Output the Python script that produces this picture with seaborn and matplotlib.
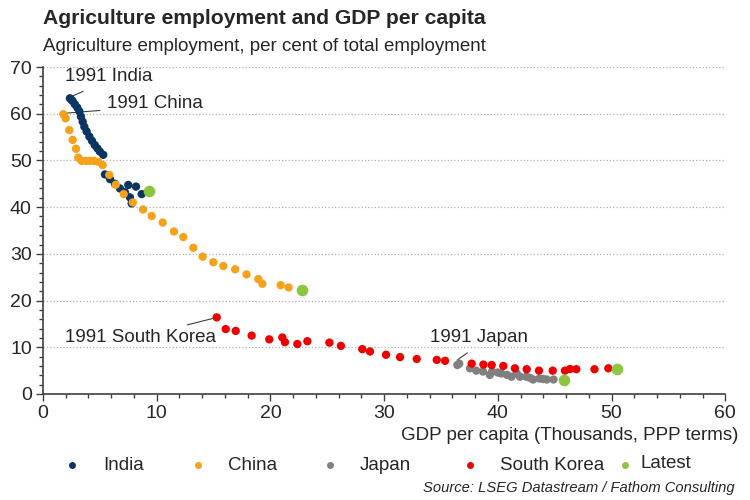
import matplotlib
matplotlib.use("Agg")
import matplotlib.pyplot as plt
from matplotlib.lines import Line2D
from matplotlib.ticker import MultipleLocator
import seaborn as sns
import pandas as pd

# GDP per capita (thousands, PPP) and agriculture share of employment (%)
india_gdp = [2.37, 2.5, 2.61, 2.81, 3.02, 3.2, 3.34, 3.49, 3.64, 3.84, 4.08, 4.31,
             4.55, 4.78, 5.0, 5.3, 5.45, 5.9, 6.33, 6.77, 7.2, 7.65, 7.8,
             7.5, 8.18, 8.68]
india_emp = [63.3, 63.0, 62.7, 62.0, 61.3, 60.5, 59.4, 58.3, 57.2, 56.2, 55.1, 54.2,
             53.3, 52.6, 51.9, 51.2, 47.0, 46.0, 45.0, 44.0, 43.2, 42.1, 40.8,
             44.75, 44.4, 42.8]

china_gdp = [1.79, 2.0, 2.31, 2.61, 2.9, 3.1, 3.4, 3.78, 4.13, 4.49, 4.86, 5.25,
             5.83, 6.4, 7.1, 7.9, 8.8, 9.56, 10.53, 11.52, 12.34, 13.22, 14.04,
             14.98, 15.86, 16.9, 17.9, 18.94, 19.29, 20.9, 21.6]
china_emp = [59.9, 59.0, 56.5, 54.4, 52.5, 50.6, 49.9, 49.9, 49.9, 49.9, 49.7, 49.0,
             46.9, 44.8, 42.8, 41.0, 39.5, 38.1, 36.7, 34.8, 33.6, 31.3, 29.4,
             28.2, 27.4, 26.7, 25.6, 24.6, 23.6, 23.3, 22.8]

japan_gdp = [36.44, 36.6, 37.55, 38.1, 38.7, 39.3, 39.5, 40.0, 40.3, 40.8, 41.2,
             41.66, 41.95, 42.5, 42.8, 43.1, 43.65, 44.0, 44.3, 44.9]
japan_emp = [6.2, 6.5, 5.5, 5.0, 4.8, 4.1, 4.8, 4.6, 4.4, 4.1, 3.7,
             4.4, 3.7, 3.7, 3.5, 3.1, 3.3, 3.2, 3.1, 3.1]

korea_gdp = [15.28, 16.07, 16.95, 18.35, 19.9, 21.05, 21.28, 22.37, 23.25, 25.19,
             26.2, 28.08, 28.76, 30.17, 31.4, 32.87, 34.63, 35.36, 37.7, 38.73,
             39.46, 40.48, 41.5, 42.54, 43.62, 44.83, 45.9, 46.35, 46.9, 48.5, 49.72]
korea_emp = [16.4, 13.9, 13.5, 12.5, 11.7, 12.1, 11.1, 10.7, 11.3, 11.0,
             10.3, 9.6, 9.1, 8.4, 7.9, 7.5, 7.3, 7.1, 6.5, 6.3,
             6.2, 6.0, 5.5, 5.3, 5.0, 5.0, 5.0, 5.35, 5.3, 5.3, 5.5]

latest_gdp = [9.35, 22.75, 45.85, 50.45]
latest_emp = [43.5, 22.3, 2.9, 5.3]

countries = ["India", "China", "Japan", "South Korea"]
legend_labels = countries + ["Latest"]
colors = {"India": "#0b3563", "China": "#f7a11a", "Japan": "#808080",
          "South Korea": "#ee0000", "Latest": "#8cc63f"}

frames = []
for name, gx, ey in [("India", india_gdp, india_emp), ("China", china_gdp, china_emp),
                     ("Japan", japan_gdp, japan_emp), ("South Korea", korea_gdp, korea_emp)]:
    frames.append(pd.DataFrame({"gdp": gx, "emp": ey, "country": name}))
df = pd.concat(frames, ignore_index=True)
latest = pd.DataFrame({"gdp": latest_gdp, "emp": latest_emp})

sns.set_theme(style="white")
plt.rcParams["font.family"] = ["Liberation Sans", "DejaVu Sans"]
text_col = "#262626"

fig = plt.figure(figsize=(7.5, 5), dpi=100)
ax = fig.add_axes([0.0573, 0.212, 0.9097, 0.654])

sns.scatterplot(data=df, x="gdp", y="emp", hue="country", hue_order=countries,
                palette=colors, s=36, linewidth=0, legend=False, ax=ax, zorder=3)
sns.scatterplot(data=latest, x="gdp", y="emp", color=colors["Latest"], s=70,
                linewidth=0, legend=False, ax=ax, zorder=4)

ax.set_xlim(0, 60)
ax.set_ylim(0, 70)
ax.xaxis.set_major_locator(MultipleLocator(10))
ax.xaxis.set_minor_locator(MultipleLocator(2))
ax.yaxis.set_major_locator(MultipleLocator(10))
ax.yaxis.set_minor_locator(MultipleLocator(2))
ax.tick_params(which="major", direction="out", length=5, width=1, color="#404040",
               labelsize=14, labelcolor=text_col, pad=3, bottom=True, left=True)
ax.tick_params(which="minor", direction="out", length=3, width=1, color="#404040",
               bottom=True, left=True)
ax.grid(axis="y", which="major", color="#b0b0b0", linestyle=":", linewidth=0.9)
ax.set_axisbelow(True)
for side in ["top", "right"]:
    ax.spines[side].set_visible(False)
for side in ["left", "bottom"]:
    ax.spines[side].set_color("#404040")
    ax.spines[side].set_linewidth(1.2)
ax.set_xlabel("")
ax.set_ylabel("")

# annotations for the 1991 starting points
ann = dict(fontsize=13.5, color=text_col, va="center", ha="left")
ax.text(1.93, 67.9, "1991 India", **ann)
ax.plot([2.52, 3.54], [63.7, 64.8], color="#404040", lw=0.8)
ax.text(5.63, 62.2, "1991 China", **ann)
ax.plot([1.93, 5.01], [60.1, 60.7], color="#404040", lw=0.8)
ax.text(1.93, 12.2, "1991 South Korea", **ann)
ax.plot([12.69, 14.98], [14.8, 16.2], color="#404040", lw=0.8)
ax.text(34.04, 12.2, "1991 Japan", **ann)
ax.plot([36.44, 37.32], [7.3, 8.8], color="#404040", lw=0.8)

fig.text(0.057, 0.962, "Agriculture employment and GDP per capita", fontsize=15.2,
         fontweight="bold", color=text_col, va="center", ha="left")
fig.text(0.057, 0.907, "Agriculture employment, per cent of total employment",
         fontsize=13.5, color=text_col, va="center", ha="left")
fig.text(0.984, 0.13, "GDP per capita (Thousands, PPP terms)", fontsize=13.5,
         color=text_col, va="center", ha="right")

# legend laid out by hand to match the uneven spacing of the original
marker_x = [72, 198, 330, 470, 625]
label_x = [103, 228, 360, 500, 640]
for lab, mx, lx in zip(legend_labels, marker_x, label_x):
    fig.add_artist(Line2D([mx / 750], [1 - 465 / 500], marker="o", linestyle="",
                          markersize=5, markerfacecolor=colors[lab], markeredgewidth=0,
                          transform=fig.transFigure))
    ly = 463 if lab == "Latest" else 465
    fig.text(lx / 750, 1 - ly / 500, lab, fontsize=13.5, color=text_col,
             va="center", ha="left")

fig.text(0.98, 0.024, "Source: LSEG Datastream / Fathom Consulting", fontsize=10.6,
         style="italic", color=text_col, va="center", ha="right")

fig.savefig("out.png", dpi=100)
plt.close(fig)
